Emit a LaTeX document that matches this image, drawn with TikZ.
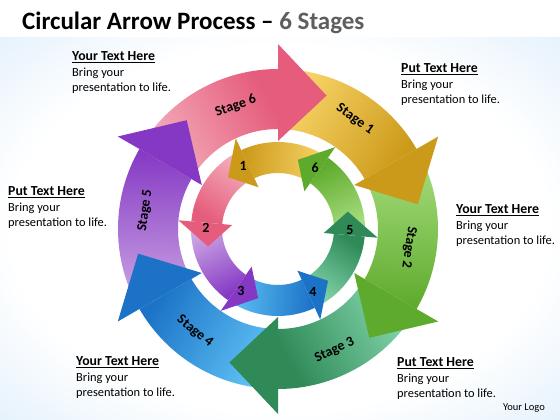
\documentclass[tikz,border=0pt]{standalone}
\usepackage{fontspec}
\setmainfont{Carlito}
\usetikzlibrary{calc}
\definecolor{bgblue}{HTML}{C6E2F9}
\definecolor{titlegray}{HTML}{5E5E5E}
\definecolor{pinkL}{HTML}{F4B0BD}
\definecolor{pinkD}{HTML}{E55C7C}
\definecolor{goldL}{HTML}{F8D468}
\definecolor{goldD}{HTML}{CC9A1A}
\definecolor{limeL}{HTML}{A8DE80}
\definecolor{limeD}{HTML}{5EAA2C}
\definecolor{tealL}{HTML}{86D8AE}
\definecolor{tealD}{HTML}{2F8A58}
\definecolor{blueL}{HTML}{5EC0F4}
\definecolor{blueD}{HTML}{1B72C6}
\definecolor{violL}{HTML}{CDA6E4}
\definecolor{violD}{HTML}{8438C4}
\pgfdeclareradialshading{glow}{\pgfpoint{0bp}{0bp}}{color(0bp)=(white); color(24bp)=(white); color(50bp)=(bgblue); color(100bp)=(bgblue)}

% outer ring: tip angle, tail colour, head colour
\newcommand{\stagebody}[3]{%
  \pgfmathsetmacro{\shang}{#1+49-180}
  \path[bottom color=#2, top color=#3, shading angle=\shang]
    (#1+78:160) arc[start angle=#1+78, end angle=#1+20, radius=160]
    -- (#1+20:100) arc[start angle=#1+20, end angle=#1+78, radius=100] -- cycle;}
\newcommand{\stagehead}[2]{%
  \fill[#2] (#1+20:88) -- (#1+20:185) -- (#1:142) -- cycle;}
% inner ring
\newcommand{\stepbody}[3]{%
  \pgfmathsetmacro{\shang}{#1-48}
  \path[bottom color=#2, top color=#3, shading angle=\shang]
    (#1-77:87) arc[start angle=#1-77, end angle=#1-19, radius=87]
    -- (#1-19:56) arc[start angle=#1-19, end angle=#1-77, radius=56] -- cycle;}
\newcommand{\stephead}[2]{%
  \fill[#2] (#1-19:46) -- (#1-19:100) -- (#1:72) -- cycle;}
% text block beside the ring
\newcommand{\blurbtext}[1]{{\fontsize{13.8}{16}\selectfont\bfseries\underline{#1}}\\Bring your\\presentation to life.}

\begin{document}
\begin{tikzpicture}[x=1pt, y=1pt,
    stagelbl/.style={font=\fontsize{14}{16}\selectfont\bfseries, inner sep=0},
    steplbl/.style={font=\fontsize{14}{16}\selectfont\bfseries, inner sep=0},
    blurb/.style={anchor=base west, align=left, inner sep=0, font=\fontsize{12.4}{15.5}\selectfont}
  ]
  \useasboundingbox (0,0) rectangle (560,420);
  \fill[white] (0,0) rectangle (560,420);
  \shade[shading=glow] (0,0) rectangle (560,382);

  \node[anchor=base west, inner sep=0, font=\fontsize{25}{30}\selectfont\bfseries] (title) at (22,390)
    {Circular Arrow Process -- \textcolor{titlegray}{6 Stages}};

  \begin{scope}[shift={(278,191)}]
    % outer arrows, clockwise
    \stagebody{10}{goldL}{goldD}
    \stagebody{-50}{limeL}{limeD}
    \stagebody{-110}{tealL}{tealD}
    \stagebody{-170}{blueL}{blueD}
    \stagebody{130}{violL}{violD}
    \stagebody{70}{pinkL}{pinkD}
    \stagehead{10}{goldD}
    \stagehead{-50}{limeD}
    \stagehead{-110}{tealD}
    \stagehead{-170}{blueD}
    \stagehead{130}{violD}
    \stagehead{70}{pinkD}
    % inner arrows, counter clockwise
    \stepbody{134}{goldL}{goldD}
    \stepbody{194}{pinkL}{pinkD}
    \stepbody{254}{violL}{violD}
    \stepbody{314}{blueL}{blueD}
    \stepbody{14}{tealL}{tealD}
    \stepbody{74}{limeL}{limeD}
    \stephead{134}{goldD}
    \stephead{194}{pinkD}
    \stephead{254}{violD}
    \stephead{314}{blueD}
    \stephead{14}{tealD}
    \stephead{74}{limeD}

    \node[stagelbl, rotate=-35] (s1) at (55:134) {Stage 1};
    \node[stagelbl, rotate=-98] (s2) at (-8:132) {Stage 2};
    \node[stagelbl, rotate=25] (s3) at (-65:134) {Stage 3};
    \node[stagelbl, rotate=-39] (s4) at (-129:132) {Stage 4};
    \node[stagelbl, rotate=82] (s5) at (172:134) {Stage 5};
    \node[stagelbl, rotate=19] (s6) at (109:130) {Stage 6};

    \node[steplbl] (n1) at (119:72) {1};
    \node[steplbl] (n2) at (179:72) {2};
    \node[steplbl] (n3) at (239:72) {3};
    \node[steplbl] (n4) at (299:72) {4};
    \node[steplbl] (n5) at (359:72) {5};
    \node[steplbl] (n6) at (59:72) {6};
  \end{scope}

  % base of each block = its last line
  \node[blurb] (tl) at (72,328) {\blurbtext{Your Text Here}};
  \node[blurb] (tr) at (401,316) {\blurbtext{Put Text Here}};
  \node[blurb] (ml) at (8,193) {\blurbtext{Put Text Here}};
  \node[blurb] (mr) at (456,175) {\blurbtext{Your Text Here}};
  \node[blurb] (bl) at (76,23) {\blurbtext{Your Text Here}};
  \node[blurb] (br) at (397,22) {\blurbtext{Put Text Here}};
  \node[anchor=base east, inner sep=0, font=\fontsize{10.5}{12}\selectfont] (logo) at (545,9) {Your Logo};
\end{tikzpicture}
\end{document}
